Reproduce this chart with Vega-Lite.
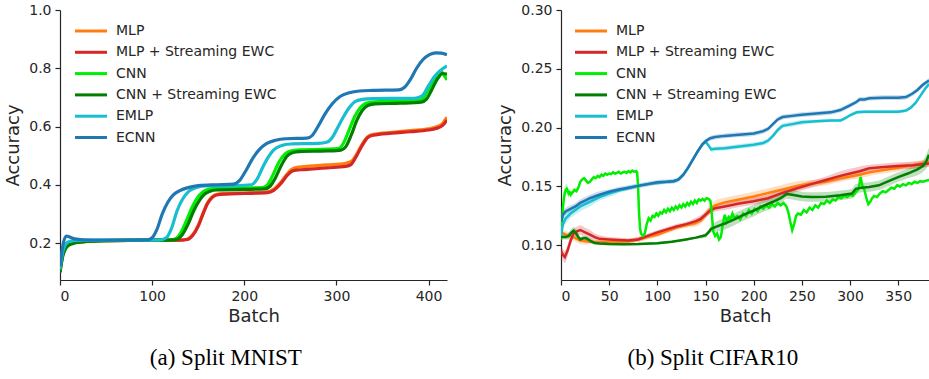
{
  "$schema": "https://vega.github.io/schema/vega-lite/v6.json",
  "padding": {"left": 4, "top": 3, "right": 0, "bottom": 0},
  "background": "white",
  "config": {
    "view": {"stroke": null},
    "axis": {
      "grid": false, "domainColor": "#262626", "tickColor": "#262626", "labelColor": "#262626", "titleColor": "#262626",
      "labelFont": "DejaVu Sans", "labelFontSize": 14, "titleFont": "DejaVu Sans", "titleFontSize": 18, "titleFontWeight": "normal",
      "tickSize": 5, "domainWidth": 1.2, "tickWidth": 1.2, "labelPadding": 4
    },
    "axisY": {"titlePadding": 6},
    "axisX": {"titlePadding": 4},
    "legend": {"padding": 0}
  },
  "datasets": {
    "mnist": [
      {"s":"MLP","x":0,"y":0.10},{"s":"MLP","x":3,"y":0.16},{"s":"MLP","x":6,"y":0.185},{"s":"MLP","x":10,"y":0.196},{"s":"MLP","x":15,"y":0.201},{"s":"MLP","x":25,"y":0.205},{"s":"MLP","x":50,"y":0.208},{"s":"MLP","x":100,"y":0.21},{"s":"MLP","x":130,"y":0.21},{"s":"MLP","x":138,"y":0.213},{"s":"MLP","x":144,"y":0.228},{"s":"MLP","x":150,"y":0.26},{"s":"MLP","x":155,"y":0.30},{"s":"MLP","x":160,"y":0.337},{"s":"MLP","x":165,"y":0.358},{"s":"MLP","x":170,"y":0.367},{"s":"MLP","x":180,"y":0.37},{"s":"MLP","x":200,"y":0.372},{"s":"MLP","x":225,"y":0.376},{"s":"MLP","x":232,"y":0.385},{"s":"MLP","x":240,"y":0.41},{"s":"MLP","x":246,"y":0.435},{"s":"MLP","x":251,"y":0.452},{"s":"MLP","x":256,"y":0.459},{"s":"MLP","x":265,"y":0.462},{"s":"MLP","x":290,"y":0.468},{"s":"MLP","x":310,"y":0.474},{"s":"MLP","x":316,"y":0.48},{"s":"MLP","x":322,"y":0.505},{"s":"MLP","x":328,"y":0.54},{"s":"MLP","x":334,"y":0.565},{"s":"MLP","x":340,"y":0.573},{"s":"MLP","x":360,"y":0.58},{"s":"MLP","x":380,"y":0.586},{"s":"MLP","x":400,"y":0.592},{"s":"MLP","x":408,"y":0.598},{"s":"MLP","x":415,"y":0.61},{"s":"MLP","x":420,"y":0.632},
      {"s":"MLP + Streaming EWC","x":0,"y":0.10},{"s":"MLP + Streaming EWC","x":3,"y":0.16},{"s":"MLP + Streaming EWC","x":6,"y":0.185},{"s":"MLP + Streaming EWC","x":10,"y":0.196},{"s":"MLP + Streaming EWC","x":15,"y":0.201},{"s":"MLP + Streaming EWC","x":25,"y":0.205},{"s":"MLP + Streaming EWC","x":50,"y":0.208},{"s":"MLP + Streaming EWC","x":100,"y":0.21},{"s":"MLP + Streaming EWC","x":130,"y":0.21},{"s":"MLP + Streaming EWC","x":138,"y":0.212},{"s":"MLP + Streaming EWC","x":144,"y":0.226},{"s":"MLP + Streaming EWC","x":150,"y":0.258},{"s":"MLP + Streaming EWC","x":155,"y":0.298},{"s":"MLP + Streaming EWC","x":160,"y":0.335},{"s":"MLP + Streaming EWC","x":165,"y":0.356},{"s":"MLP + Streaming EWC","x":170,"y":0.365},{"s":"MLP + Streaming EWC","x":180,"y":0.368},{"s":"MLP + Streaming EWC","x":200,"y":0.37},{"s":"MLP + Streaming EWC","x":225,"y":0.373},{"s":"MLP + Streaming EWC","x":232,"y":0.381},{"s":"MLP + Streaming EWC","x":240,"y":0.405},{"s":"MLP + Streaming EWC","x":246,"y":0.43},{"s":"MLP + Streaming EWC","x":251,"y":0.445},{"s":"MLP + Streaming EWC","x":256,"y":0.45},{"s":"MLP + Streaming EWC","x":265,"y":0.452},{"s":"MLP + Streaming EWC","x":290,"y":0.458},{"s":"MLP + Streaming EWC","x":310,"y":0.463},{"s":"MLP + Streaming EWC","x":316,"y":0.47},{"s":"MLP + Streaming EWC","x":322,"y":0.5},{"s":"MLP + Streaming EWC","x":328,"y":0.535},{"s":"MLP + Streaming EWC","x":334,"y":0.562},{"s":"MLP + Streaming EWC","x":340,"y":0.57},{"s":"MLP + Streaming EWC","x":360,"y":0.577},{"s":"MLP + Streaming EWC","x":380,"y":0.582},{"s":"MLP + Streaming EWC","x":400,"y":0.588},{"s":"MLP + Streaming EWC","x":408,"y":0.593},{"s":"MLP + Streaming EWC","x":415,"y":0.603},{"s":"MLP + Streaming EWC","x":420,"y":0.622},
      {"s":"CNN","x":0,"y":0.11},{"s":"CNN","x":3,"y":0.175},{"s":"CNN","x":6,"y":0.192},{"s":"CNN","x":10,"y":0.199},{"s":"CNN","x":15,"y":0.202},{"s":"CNN","x":25,"y":0.205},{"s":"CNN","x":50,"y":0.208},{"s":"CNN","x":100,"y":0.21},{"s":"CNN","x":118,"y":0.21},{"s":"CNN","x":125,"y":0.214},{"s":"CNN","x":131,"y":0.235},{"s":"CNN","x":137,"y":0.275},{"s":"CNN","x":143,"y":0.32},{"s":"CNN","x":149,"y":0.355},{"s":"CNN","x":155,"y":0.375},{"s":"CNN","x":162,"y":0.385},{"s":"CNN","x":170,"y":0.388},{"s":"CNN","x":200,"y":0.389},{"s":"CNN","x":220,"y":0.39},{"s":"CNN","x":226,"y":0.403},{"s":"CNN","x":232,"y":0.44},{"s":"CNN","x":238,"y":0.48},{"s":"CNN","x":244,"y":0.505},{"s":"CNN","x":250,"y":0.516},{"s":"CNN","x":260,"y":0.52},{"s":"CNN","x":290,"y":0.522},{"s":"CNN","x":303,"y":0.525},{"s":"CNN","x":308,"y":0.545},{"s":"CNN","x":314,"y":0.59},{"s":"CNN","x":320,"y":0.635},{"s":"CNN","x":326,"y":0.665},{"s":"CNN","x":332,"y":0.68},{"s":"CNN","x":342,"y":0.685},{"s":"CNN","x":370,"y":0.688},{"s":"CNN","x":390,"y":0.69},{"s":"CNN","x":396,"y":0.705},{"s":"CNN","x":402,"y":0.74},{"s":"CNN","x":408,"y":0.772},{"s":"CNN","x":413,"y":0.79},{"s":"CNN","x":417,"y":0.775},{"s":"CNN","x":420,"y":0.76},
      {"s":"CNN + Streaming EWC","x":0,"y":0.10},{"s":"CNN + Streaming EWC","x":3,"y":0.155},{"s":"CNN + Streaming EWC","x":6,"y":0.18},{"s":"CNN + Streaming EWC","x":10,"y":0.193},{"s":"CNN + Streaming EWC","x":15,"y":0.199},{"s":"CNN + Streaming EWC","x":25,"y":0.204},{"s":"CNN + Streaming EWC","x":50,"y":0.208},{"s":"CNN + Streaming EWC","x":100,"y":0.21},{"s":"CNN + Streaming EWC","x":120,"y":0.21},{"s":"CNN + Streaming EWC","x":127,"y":0.213},{"s":"CNN + Streaming EWC","x":133,"y":0.23},{"s":"CNN + Streaming EWC","x":139,"y":0.265},{"s":"CNN + Streaming EWC","x":145,"y":0.31},{"s":"CNN + Streaming EWC","x":151,"y":0.345},{"s":"CNN + Streaming EWC","x":157,"y":0.368},{"s":"CNN + Streaming EWC","x":163,"y":0.378},{"s":"CNN + Streaming EWC","x":170,"y":0.382},{"s":"CNN + Streaming EWC","x":200,"y":0.384},{"s":"CNN + Streaming EWC","x":222,"y":0.386},{"s":"CNN + Streaming EWC","x":228,"y":0.395},{"s":"CNN + Streaming EWC","x":234,"y":0.425},{"s":"CNN + Streaming EWC","x":240,"y":0.465},{"s":"CNN + Streaming EWC","x":246,"y":0.497},{"s":"CNN + Streaming EWC","x":252,"y":0.51},{"s":"CNN + Streaming EWC","x":260,"y":0.514},{"s":"CNN + Streaming EWC","x":290,"y":0.516},{"s":"CNN + Streaming EWC","x":305,"y":0.519},{"s":"CNN + Streaming EWC","x":310,"y":0.53},{"s":"CNN + Streaming EWC","x":316,"y":0.57},{"s":"CNN + Streaming EWC","x":322,"y":0.62},{"s":"CNN + Streaming EWC","x":328,"y":0.655},{"s":"CNN + Streaming EWC","x":334,"y":0.672},{"s":"CNN + Streaming EWC","x":342,"y":0.678},{"s":"CNN + Streaming EWC","x":370,"y":0.68},{"s":"CNN + Streaming EWC","x":392,"y":0.684},{"s":"CNN + Streaming EWC","x":398,"y":0.695},{"s":"CNN + Streaming EWC","x":404,"y":0.73},{"s":"CNN + Streaming EWC","x":410,"y":0.765},{"s":"CNN + Streaming EWC","x":415,"y":0.782},{"s":"CNN + Streaming EWC","x":420,"y":0.78},
      {"s":"EMLP","x":0,"y":0.11},{"s":"EMLP","x":3,"y":0.17},{"s":"EMLP","x":6,"y":0.195},{"s":"EMLP","x":10,"y":0.205},{"s":"EMLP","x":20,"y":0.209},{"s":"EMLP","x":50,"y":0.21},{"s":"EMLP","x":100,"y":0.21},{"s":"EMLP","x":110,"y":0.211},{"s":"EMLP","x":116,"y":0.22},{"s":"EMLP","x":121,"y":0.25},{"s":"EMLP","x":127,"y":0.31},{"s":"EMLP","x":133,"y":0.35},{"s":"EMLP","x":140,"y":0.378},{"s":"EMLP","x":148,"y":0.391},{"s":"EMLP","x":157,"y":0.396},{"s":"EMLP","x":190,"y":0.397},{"s":"EMLP","x":208,"y":0.40},{"s":"EMLP","x":214,"y":0.42},{"s":"EMLP","x":220,"y":0.46},{"s":"EMLP","x":226,"y":0.495},{"s":"EMLP","x":232,"y":0.52},{"s":"EMLP","x":240,"y":0.534},{"s":"EMLP","x":250,"y":0.54},{"s":"EMLP","x":280,"y":0.542},{"s":"EMLP","x":290,"y":0.547},{"s":"EMLP","x":296,"y":0.565},{"s":"EMLP","x":302,"y":0.60},{"s":"EMLP","x":308,"y":0.635},{"s":"EMLP","x":314,"y":0.665},{"s":"EMLP","x":320,"y":0.685},{"s":"EMLP","x":328,"y":0.693},{"s":"EMLP","x":340,"y":0.696},{"s":"EMLP","x":385,"y":0.697},{"s":"EMLP","x":393,"y":0.705},{"s":"EMLP","x":400,"y":0.74},{"s":"EMLP","x":406,"y":0.77},{"s":"EMLP","x":412,"y":0.79},{"s":"EMLP","x":420,"y":0.808},
      {"s":"ECNN","x":0,"y":0.12},{"s":"ECNN","x":2,"y":0.17},{"s":"ECNN","x":4,"y":0.205},{"s":"ECNN","x":7,"y":0.224},{"s":"ECNN","x":11,"y":0.22},{"s":"ECNN","x":16,"y":0.214},{"s":"ECNN","x":25,"y":0.211},{"s":"ECNN","x":50,"y":0.21},{"s":"ECNN","x":95,"y":0.211},{"s":"ECNN","x":100,"y":0.218},{"s":"ECNN","x":105,"y":0.245},{"s":"ECNN","x":111,"y":0.30},{"s":"ECNN","x":117,"y":0.34},{"s":"ECNN","x":123,"y":0.365},{"s":"ECNN","x":130,"y":0.38},{"s":"ECNN","x":140,"y":0.391},{"s":"ECNN","x":150,"y":0.397},{"s":"ECNN","x":170,"y":0.40},{"s":"ECNN","x":188,"y":0.402},{"s":"ECNN","x":195,"y":0.415},{"s":"ECNN","x":202,"y":0.45},{"s":"ECNN","x":209,"y":0.49},{"s":"ECNN","x":216,"y":0.52},{"s":"ECNN","x":224,"y":0.541},{"s":"ECNN","x":234,"y":0.553},{"s":"ECNN","x":245,"y":0.558},{"s":"ECNN","x":268,"y":0.56},{"s":"ECNN","x":274,"y":0.57},{"s":"ECNN","x":280,"y":0.60},{"s":"ECNN","x":288,"y":0.645},{"s":"ECNN","x":296,"y":0.68},{"s":"ECNN","x":304,"y":0.703},{"s":"ECNN","x":314,"y":0.716},{"s":"ECNN","x":325,"y":0.722},{"s":"ECNN","x":340,"y":0.724},{"s":"ECNN","x":368,"y":0.726},{"s":"ECNN","x":374,"y":0.735},{"s":"ECNN","x":380,"y":0.76},{"s":"ECNN","x":387,"y":0.80},{"s":"ECNN","x":394,"y":0.83},{"s":"ECNN","x":401,"y":0.847},{"s":"ECNN","x":408,"y":0.853},{"s":"ECNN","x":414,"y":0.852},{"s":"ECNN","x":420,"y":0.846}
    ],
    "cifar": [
      {"s":"MLP","x":0,"y":0.111,"e":0.003},{"s":"MLP","x":5,"y":0.109,"e":0.003},{"s":"MLP","x":10,"y":0.108,"e":0.003},{"s":"MLP","x":15,"y":0.106,"e":0.003},{"s":"MLP","x":20,"y":0.104,"e":0.003},{"s":"MLP","x":25,"y":0.1035,"e":0.003},{"s":"MLP","x":30,"y":0.103,"e":0.002},{"s":"MLP","x":40,"y":0.1025,"e":0.002},{"s":"MLP","x":50,"y":0.1025,"e":0.002},{"s":"MLP","x":60,"y":0.103,"e":0.002},{"s":"MLP","x":70,"y":0.1035,"e":0.002},{"s":"MLP","x":80,"y":0.105,"e":0.002},{"s":"MLP","x":90,"y":0.107,"e":0.002},{"s":"MLP","x":100,"y":0.109,"e":0.002},{"s":"MLP","x":110,"y":0.112,"e":0.002},{"s":"MLP","x":120,"y":0.115,"e":0.002},{"s":"MLP","x":130,"y":0.117,"e":0.002},{"s":"MLP","x":140,"y":0.119,"e":0.003},{"s":"MLP","x":145,"y":0.121,"e":0.003},{"s":"MLP","x":150,"y":0.126,"e":0.003},{"s":"MLP","x":155,"y":0.131,"e":0.004},{"s":"MLP","x":160,"y":0.134,"e":0.004},{"s":"MLP","x":170,"y":0.1365,"e":0.004},{"s":"MLP","x":185,"y":0.139,"e":0.004},{"s":"MLP","x":200,"y":0.1415,"e":0.004},{"s":"MLP","x":215,"y":0.1445,"e":0.004},{"s":"MLP","x":230,"y":0.1475,"e":0.004},{"s":"MLP","x":245,"y":0.1505,"e":0.004},{"s":"MLP","x":260,"y":0.1525,"e":0.003},{"s":"MLP","x":275,"y":0.154,"e":0.003},{"s":"MLP","x":290,"y":0.157,"e":0.003},{"s":"MLP","x":300,"y":0.1585,"e":0.003},{"s":"MLP","x":310,"y":0.16,"e":0.003},{"s":"MLP","x":320,"y":0.162,"e":0.003},{"s":"MLP","x":335,"y":0.164,"e":0.003},{"s":"MLP","x":350,"y":0.166,"e":0.003},{"s":"MLP","x":365,"y":0.168,"e":0.003},{"s":"MLP","x":382,"y":0.1705,"e":0.003},
      {"s":"MLP + Streaming EWC","x":0,"y":0.095,"e":0.004},{"s":"MLP + Streaming EWC","x":2,"y":0.092,"e":0.005},{"s":"MLP + Streaming EWC","x":4,"y":0.090,"e":0.005},{"s":"MLP + Streaming EWC","x":7,"y":0.096,"e":0.005},{"s":"MLP + Streaming EWC","x":10,"y":0.104,"e":0.004},{"s":"MLP + Streaming EWC","x":13,"y":0.11,"e":0.004},{"s":"MLP + Streaming EWC","x":17,"y":0.112,"e":0.004},{"s":"MLP + Streaming EWC","x":20,"y":0.113,"e":0.004},{"s":"MLP + Streaming EWC","x":25,"y":0.111,"e":0.004},{"s":"MLP + Streaming EWC","x":30,"y":0.109,"e":0.004},{"s":"MLP + Streaming EWC","x":35,"y":0.107,"e":0.003},{"s":"MLP + Streaming EWC","x":40,"y":0.1055,"e":0.003},{"s":"MLP + Streaming EWC","x":50,"y":0.105,"e":0.002},{"s":"MLP + Streaming EWC","x":60,"y":0.1045,"e":0.002},{"s":"MLP + Streaming EWC","x":70,"y":0.104,"e":0.002},{"s":"MLP + Streaming EWC","x":80,"y":0.105,"e":0.002},{"s":"MLP + Streaming EWC","x":90,"y":0.108,"e":0.002},{"s":"MLP + Streaming EWC","x":100,"y":0.111,"e":0.002},{"s":"MLP + Streaming EWC","x":110,"y":0.1135,"e":0.002},{"s":"MLP + Streaming EWC","x":120,"y":0.116,"e":0.002},{"s":"MLP + Streaming EWC","x":130,"y":0.118,"e":0.002},{"s":"MLP + Streaming EWC","x":140,"y":0.1205,"e":0.003},{"s":"MLP + Streaming EWC","x":145,"y":0.1225,"e":0.003},{"s":"MLP + Streaming EWC","x":150,"y":0.126,"e":0.003},{"s":"MLP + Streaming EWC","x":155,"y":0.1295,"e":0.003},{"s":"MLP + Streaming EWC","x":160,"y":0.1315,"e":0.003},{"s":"MLP + Streaming EWC","x":170,"y":0.133,"e":0.003},{"s":"MLP + Streaming EWC","x":185,"y":0.1355,"e":0.003},{"s":"MLP + Streaming EWC","x":200,"y":0.1375,"e":0.003},{"s":"MLP + Streaming EWC","x":215,"y":0.14,"e":0.003},{"s":"MLP + Streaming EWC","x":230,"y":0.1445,"e":0.003},{"s":"MLP + Streaming EWC","x":245,"y":0.1485,"e":0.003},{"s":"MLP + Streaming EWC","x":260,"y":0.152,"e":0.003},{"s":"MLP + Streaming EWC","x":275,"y":0.1555,"e":0.003},{"s":"MLP + Streaming EWC","x":290,"y":0.159,"e":0.004},{"s":"MLP + Streaming EWC","x":300,"y":0.161,"e":0.004},{"s":"MLP + Streaming EWC","x":310,"y":0.163,"e":0.004},{"s":"MLP + Streaming EWC","x":320,"y":0.1655,"e":0.003},{"s":"MLP + Streaming EWC","x":335,"y":0.1665,"e":0.003},{"s":"MLP + Streaming EWC","x":350,"y":0.1675,"e":0.003},{"s":"MLP + Streaming EWC","x":365,"y":0.168,"e":0.003},{"s":"MLP + Streaming EWC","x":382,"y":0.1695,"e":0.003},
      {"s":"CNN","x":0,"y":0.105,"e":0.002},{"s":"CNN","x":1,"y":0.118,"e":0.003},{"s":"CNN","x":2,"y":0.132,"e":0.004},{"s":"CNN","x":3,"y":0.14,"e":0.005},{"s":"CNN","x":4,"y":0.145,"e":0.005},{"s":"CNN","x":5,"y":0.147,"e":0.005},{"s":"CNN","x":6,"y":0.148,"e":0.004},{"s":"CNN","x":7,"y":0.146,"e":0.004},{"s":"CNN","x":8,"y":0.144,"e":0.004},{"s":"CNN","x":9,"y":0.145,"e":0.003},{"s":"CNN","x":10,"y":0.143,"e":0.003},{"s":"CNN","x":12,"y":0.145,"e":0.002},{"s":"CNN","x":14,"y":0.147,"e":0.002},{"s":"CNN","x":16,"y":0.146,"e":0.001},{"s":"CNN","x":18,"y":0.149,"e":0.001},{"s":"CNN","x":20,"y":0.154,"e":0.001},{"s":"CNN","x":22,"y":0.156,"e":0.001},{"s":"CNN","x":24,"y":0.157,"e":0.001},{"s":"CNN","x":26,"y":0.155,"e":0.001},{"s":"CNN","x":28,"y":0.153,"e":0.001},{"s":"CNN","x":30,"y":0.154,"e":0.001},{"s":"CNN","x":32,"y":0.156,"e":0.001},{"s":"CNN","x":34,"y":0.158,"e":0.001},{"s":"CNN","x":36,"y":0.157,"e":0.001},{"s":"CNN","x":38,"y":0.159,"e":0.001},{"s":"CNN","x":40,"y":0.158,"e":0.001},{"s":"CNN","x":42,"y":0.16,"e":0.001},{"s":"CNN","x":44,"y":0.159,"e":0.001},{"s":"CNN","x":46,"y":0.161,"e":0.001},{"s":"CNN","x":48,"y":0.16,"e":0.001},{"s":"CNN","x":50,"y":0.161,"e":0.001},{"s":"CNN","x":52,"y":0.1605,"e":0.001},{"s":"CNN","x":54,"y":0.162,"e":0.001},{"s":"CNN","x":56,"y":0.161,"e":0.001},{"s":"CNN","x":58,"y":0.1615,"e":0.001},{"s":"CNN","x":60,"y":0.1625,"e":0.001},{"s":"CNN","x":62,"y":0.161,"e":0.001},{"s":"CNN","x":64,"y":0.162,"e":0.001},{"s":"CNN","x":66,"y":0.1625,"e":0.001},{"s":"CNN","x":68,"y":0.1615,"e":0.001},{"s":"CNN","x":70,"y":0.163,"e":0.001},{"s":"CNN","x":72,"y":0.162,"e":0.001},{"s":"CNN","x":74,"y":0.1635,"e":0.001},{"s":"CNN","x":76,"y":0.1625,"e":0.001},{"s":"CNN","x":78,"y":0.163,"e":0.001},{"s":"CNN","x":79,"y":0.162,"e":0.001},{"s":"CNN","x":80,"y":0.15,"e":0.001},{"s":"CNN","x":81,"y":0.128,"e":0.001},{"s":"CNN","x":82,"y":0.115,"e":0.001},{"s":"CNN","x":83,"y":0.11,"e":0.001},{"s":"CNN","x":85,"y":0.108,"e":0.001},{"s":"CNN","x":87,"y":0.11,"e":0.001},{"s":"CNN","x":89,"y":0.118,"e":0.001},{"s":"CNN","x":91,"y":0.123,"e":0.001},{"s":"CNN","x":93,"y":0.121,"e":0.001},{"s":"CNN","x":95,"y":0.125,"e":0.001},{"s":"CNN","x":97,"y":0.124,"e":0.001},{"s":"CNN","x":99,"y":0.127,"e":0.001},{"s":"CNN","x":101,"y":0.125,"e":0.001},{"s":"CNN","x":103,"y":0.128,"e":0.001},{"s":"CNN","x":105,"y":0.127,"e":0.001},{"s":"CNN","x":107,"y":0.13,"e":0.001},{"s":"CNN","x":109,"y":0.128,"e":0.001},{"s":"CNN","x":111,"y":0.131,"e":0.001},{"s":"CNN","x":113,"y":0.129,"e":0.001},{"s":"CNN","x":115,"y":0.132,"e":0.001},{"s":"CNN","x":117,"y":0.13,"e":0.001},{"s":"CNN","x":119,"y":0.133,"e":0.001},{"s":"CNN","x":121,"y":0.131,"e":0.001},{"s":"CNN","x":123,"y":0.134,"e":0.001},{"s":"CNN","x":125,"y":0.132,"e":0.001},{"s":"CNN","x":127,"y":0.135,"e":0.001},{"s":"CNN","x":129,"y":0.133,"e":0.001},{"s":"CNN","x":131,"y":0.136,"e":0.001},{"s":"CNN","x":133,"y":0.134,"e":0.001},{"s":"CNN","x":135,"y":0.137,"e":0.001},{"s":"CNN","x":137,"y":0.135,"e":0.001},{"s":"CNN","x":139,"y":0.138,"e":0.001},{"s":"CNN","x":141,"y":0.136,"e":0.001},{"s":"CNN","x":143,"y":0.139,"e":0.001},{"s":"CNN","x":145,"y":0.138,"e":0.001},{"s":"CNN","x":147,"y":0.1395,"e":0.001},{"s":"CNN","x":149,"y":0.138,"e":0.001},{"s":"CNN","x":151,"y":0.14,"e":0.001},{"s":"CNN","x":153,"y":0.1395,"e":0.001},{"s":"CNN","x":155,"y":0.138,"e":0.001},{"s":"CNN","x":156,"y":0.132,"e":0.001},{"s":"CNN","x":157,"y":0.122,"e":0.001},{"s":"CNN","x":158,"y":0.112,"e":0.001},{"s":"CNN","x":160,"y":0.108,"e":0.002},{"s":"CNN","x":162,"y":0.11,"e":0.002},{"s":"CNN","x":164,"y":0.105,"e":0.002},{"s":"CNN","x":166,"y":0.107,"e":0.002},{"s":"CNN","x":168,"y":0.118,"e":0.002},{"s":"CNN","x":170,"y":0.126,"e":0.001},{"s":"CNN","x":172,"y":0.12,"e":0.001},{"s":"CNN","x":174,"y":0.124,"e":0.001},{"s":"CNN","x":176,"y":0.122,"e":0.001},{"s":"CNN","x":178,"y":0.127,"e":0.001},{"s":"CNN","x":180,"y":0.123,"e":0.001},{"s":"CNN","x":183,"y":0.125,"e":0.001},{"s":"CNN","x":186,"y":0.122,"e":0.001},{"s":"CNN","x":189,"y":0.127,"e":0.001},{"s":"CNN","x":192,"y":0.125,"e":0.001},{"s":"CNN","x":195,"y":0.13,"e":0.001},{"s":"CNN","x":198,"y":0.127,"e":0.001},{"s":"CNN","x":201,"y":0.131,"e":0.001},{"s":"CNN","x":204,"y":0.129,"e":0.001},{"s":"CNN","x":207,"y":0.133,"e":0.001},{"s":"CNN","x":210,"y":0.131,"e":0.001},{"s":"CNN","x":213,"y":0.134,"e":0.001},{"s":"CNN","x":216,"y":0.132,"e":0.001},{"s":"CNN","x":219,"y":0.135,"e":0.001},{"s":"CNN","x":222,"y":0.133,"e":0.001},{"s":"CNN","x":225,"y":0.136,"e":0.001},{"s":"CNN","x":228,"y":0.134,"e":0.001},{"s":"CNN","x":231,"y":0.136,"e":0.001},{"s":"CNN","x":234,"y":0.133,"e":0.001},{"s":"CNN","x":236,"y":0.128,"e":0.001},{"s":"CNN","x":238,"y":0.12,"e":0.001},{"s":"CNN","x":240,"y":0.113,"e":0.001},{"s":"CNN","x":242,"y":0.118,"e":0.001},{"s":"CNN","x":244,"y":0.125,"e":0.001},{"s":"CNN","x":246,"y":0.127,"e":0.001},{"s":"CNN","x":249,"y":0.126,"e":0.001},{"s":"CNN","x":252,"y":0.13,"e":0.001},{"s":"CNN","x":255,"y":0.128,"e":0.001},{"s":"CNN","x":258,"y":0.132,"e":0.001},{"s":"CNN","x":261,"y":0.13,"e":0.001},{"s":"CNN","x":264,"y":0.134,"e":0.001},{"s":"CNN","x":267,"y":0.132,"e":0.001},{"s":"CNN","x":270,"y":0.136,"e":0.001},{"s":"CNN","x":273,"y":0.135,"e":0.001},{"s":"CNN","x":276,"y":0.138,"e":0.001},{"s":"CNN","x":279,"y":0.136,"e":0.001},{"s":"CNN","x":282,"y":0.139,"e":0.001},{"s":"CNN","x":285,"y":0.138,"e":0.001},{"s":"CNN","x":288,"y":0.141,"e":0.001},{"s":"CNN","x":291,"y":0.14,"e":0.001},{"s":"CNN","x":294,"y":0.142,"e":0.001},{"s":"CNN","x":297,"y":0.141,"e":0.001},{"s":"CNN","x":300,"y":0.143,"e":0.001},{"s":"CNN","x":303,"y":0.142,"e":0.001},{"s":"CNN","x":306,"y":0.145,"e":0.001},{"s":"CNN","x":309,"y":0.148,"e":0.001},{"s":"CNN","x":311,"y":0.158,"e":0.001},{"s":"CNN","x":313,"y":0.15,"e":0.001},{"s":"CNN","x":315,"y":0.147,"e":0.001},{"s":"CNN","x":317,"y":0.14,"e":0.001},{"s":"CNN","x":319,"y":0.135,"e":0.001},{"s":"CNN","x":321,"y":0.137,"e":0.001},{"s":"CNN","x":323,"y":0.14,"e":0.001},{"s":"CNN","x":325,"y":0.142,"e":0.001},{"s":"CNN","x":328,"y":0.141,"e":0.001},{"s":"CNN","x":331,"y":0.144,"e":0.001},{"s":"CNN","x":334,"y":0.146,"e":0.001},{"s":"CNN","x":337,"y":0.145,"e":0.001},{"s":"CNN","x":340,"y":0.147,"e":0.001},{"s":"CNN","x":343,"y":0.149,"e":0.001},{"s":"CNN","x":346,"y":0.148,"e":0.001},{"s":"CNN","x":349,"y":0.151,"e":0.001},{"s":"CNN","x":352,"y":0.15,"e":0.001},{"s":"CNN","x":355,"y":0.152,"e":0.001},{"s":"CNN","x":358,"y":0.151,"e":0.001},{"s":"CNN","x":361,"y":0.153,"e":0.001},{"s":"CNN","x":364,"y":0.152,"e":0.001},{"s":"CNN","x":367,"y":0.154,"e":0.001},{"s":"CNN","x":370,"y":0.153,"e":0.001},{"s":"CNN","x":373,"y":0.1545,"e":0.001},{"s":"CNN","x":376,"y":0.154,"e":0.001},{"s":"CNN","x":379,"y":0.155,"e":0.001},{"s":"CNN","x":382,"y":0.1555,"e":0.001},
      {"s":"CNN + Streaming EWC","x":0,"y":0.107,"e":0.002},{"s":"CNN + Streaming EWC","x":5,"y":0.107,"e":0.002},{"s":"CNN + Streaming EWC","x":8,"y":0.108,"e":0.003},{"s":"CNN + Streaming EWC","x":11,"y":0.111,"e":0.003},{"s":"CNN + Streaming EWC","x":13,"y":0.1125,"e":0.003},{"s":"CNN + Streaming EWC","x":15,"y":0.111,"e":0.003},{"s":"CNN + Streaming EWC","x":18,"y":0.107,"e":0.003},{"s":"CNN + Streaming EWC","x":20,"y":0.105,"e":0.002},{"s":"CNN + Streaming EWC","x":23,"y":0.106,"e":0.002},{"s":"CNN + Streaming EWC","x":26,"y":0.106,"e":0.002},{"s":"CNN + Streaming EWC","x":30,"y":0.104,"e":0.002},{"s":"CNN + Streaming EWC","x":35,"y":0.102,"e":0.001},{"s":"CNN + Streaming EWC","x":40,"y":0.1015,"e":0.001},{"s":"CNN + Streaming EWC","x":50,"y":0.101,"e":0.001},{"s":"CNN + Streaming EWC","x":65,"y":0.1008,"e":0.001},{"s":"CNN + Streaming EWC","x":80,"y":0.101,"e":0.001},{"s":"CNN + Streaming EWC","x":100,"y":0.1017,"e":0.001},{"s":"CNN + Streaming EWC","x":115,"y":0.103,"e":0.001},{"s":"CNN + Streaming EWC","x":130,"y":0.105,"e":0.001},{"s":"CNN + Streaming EWC","x":140,"y":0.1065,"e":0.001},{"s":"CNN + Streaming EWC","x":150,"y":0.1085,"e":0.002},{"s":"CNN + Streaming EWC","x":153,"y":0.111,"e":0.002},{"s":"CNN + Streaming EWC","x":156,"y":0.114,"e":0.003},{"s":"CNN + Streaming EWC","x":160,"y":0.1155,"e":0.004},{"s":"CNN + Streaming EWC","x":170,"y":0.1185,"e":0.005},{"s":"CNN + Streaming EWC","x":180,"y":0.122,"e":0.005},{"s":"CNN + Streaming EWC","x":190,"y":0.126,"e":0.005},{"s":"CNN + Streaming EWC","x":200,"y":0.1295,"e":0.005},{"s":"CNN + Streaming EWC","x":210,"y":0.1335,"e":0.005},{"s":"CNN + Streaming EWC","x":220,"y":0.137,"e":0.005},{"s":"CNN + Streaming EWC","x":228,"y":0.14,"e":0.005},{"s":"CNN + Streaming EWC","x":234,"y":0.1435,"e":0.004},{"s":"CNN + Streaming EWC","x":240,"y":0.143,"e":0.004},{"s":"CNN + Streaming EWC","x":250,"y":0.1415,"e":0.004},{"s":"CNN + Streaming EWC","x":260,"y":0.141,"e":0.004},{"s":"CNN + Streaming EWC","x":275,"y":0.1412,"e":0.004},{"s":"CNN + Streaming EWC","x":290,"y":0.1425,"e":0.004},{"s":"CNN + Streaming EWC","x":302,"y":0.144,"e":0.004},{"s":"CNN + Streaming EWC","x":306,"y":0.148,"e":0.004},{"s":"CNN + Streaming EWC","x":312,"y":0.149,"e":0.004},{"s":"CNN + Streaming EWC","x":320,"y":0.1495,"e":0.004},{"s":"CNN + Streaming EWC","x":330,"y":0.151,"e":0.004},{"s":"CNN + Streaming EWC","x":340,"y":0.1545,"e":0.004},{"s":"CNN + Streaming EWC","x":350,"y":0.158,"e":0.004},{"s":"CNN + Streaming EWC","x":360,"y":0.161,"e":0.004},{"s":"CNN + Streaming EWC","x":370,"y":0.1645,"e":0.005},{"s":"CNN + Streaming EWC","x":376,"y":0.1675,"e":0.005},{"s":"CNN + Streaming EWC","x":379,"y":0.171,"e":0.006},{"s":"CNN + Streaming EWC","x":382,"y":0.177,"e":0.006},
      {"s":"EMLP","x":0,"y":0.108,"e":0.005},{"s":"EMLP","x":2,"y":0.118,"e":0.005},{"s":"EMLP","x":5,"y":0.123,"e":0.005},{"s":"EMLP","x":10,"y":0.127,"e":0.004},{"s":"EMLP","x":15,"y":0.13,"e":0.004},{"s":"EMLP","x":20,"y":0.133,"e":0.004},{"s":"EMLP","x":25,"y":0.135,"e":0.004},{"s":"EMLP","x":30,"y":0.137,"e":0.004},{"s":"EMLP","x":40,"y":0.141,"e":0.003},{"s":"EMLP","x":50,"y":0.144,"e":0.003},{"s":"EMLP","x":60,"y":0.1465,"e":0.002},{"s":"EMLP","x":70,"y":0.1485,"e":0.002},{"s":"EMLP","x":80,"y":0.1505,"e":0.0015},{"s":"EMLP","x":90,"y":0.152,"e":0.0015},{"s":"EMLP","x":100,"y":0.153,"e":0.0015},{"s":"EMLP","x":110,"y":0.154,"e":0.0015},{"s":"EMLP","x":117,"y":0.1545,"e":0.0015},{"s":"EMLP","x":122,"y":0.156,"e":0.0015},{"s":"EMLP","x":127,"y":0.16,"e":0.0015},{"s":"EMLP","x":132,"y":0.166,"e":0.0015},{"s":"EMLP","x":137,"y":0.173,"e":0.0015},{"s":"EMLP","x":142,"y":0.18,"e":0.0015},{"s":"EMLP","x":147,"y":0.186,"e":0.0015},{"s":"EMLP","x":150,"y":0.188,"e":0.0015},{"s":"EMLP","x":153,"y":0.185,"e":0.002},{"s":"EMLP","x":156,"y":0.1815,"e":0.002},{"s":"EMLP","x":160,"y":0.182,"e":0.002},{"s":"EMLP","x":170,"y":0.1825,"e":0.002},{"s":"EMLP","x":185,"y":0.184,"e":0.002},{"s":"EMLP","x":200,"y":0.1855,"e":0.002},{"s":"EMLP","x":210,"y":0.187,"e":0.002},{"s":"EMLP","x":215,"y":0.189,"e":0.002},{"s":"EMLP","x":220,"y":0.193,"e":0.002},{"s":"EMLP","x":225,"y":0.198,"e":0.002},{"s":"EMLP","x":230,"y":0.2015,"e":0.002},{"s":"EMLP","x":240,"y":0.203,"e":0.002},{"s":"EMLP","x":250,"y":0.2045,"e":0.002},{"s":"EMLP","x":265,"y":0.2055,"e":0.0015},{"s":"EMLP","x":280,"y":0.206,"e":0.0015},{"s":"EMLP","x":290,"y":0.206,"e":0.0015},{"s":"EMLP","x":295,"y":0.208,"e":0.0015},{"s":"EMLP","x":300,"y":0.2105,"e":0.0015},{"s":"EMLP","x":307,"y":0.213,"e":0.0015},{"s":"EMLP","x":315,"y":0.2135,"e":0.0015},{"s":"EMLP","x":330,"y":0.2135,"e":0.0015},{"s":"EMLP","x":350,"y":0.2135,"e":0.0015},{"s":"EMLP","x":358,"y":0.2145,"e":0.0015},{"s":"EMLP","x":363,"y":0.217,"e":0.0015},{"s":"EMLP","x":368,"y":0.221,"e":0.0015},{"s":"EMLP","x":373,"y":0.227,"e":0.0015},{"s":"EMLP","x":378,"y":0.233,"e":0.0015},{"s":"EMLP","x":382,"y":0.237,"e":0.0015},
      {"s":"ECNN","x":0,"y":0.12,"e":0.003},{"s":"ECNN","x":2,"y":0.126,"e":0.003},{"s":"ECNN","x":5,"y":0.129,"e":0.003},{"s":"ECNN","x":10,"y":0.131,"e":0.003},{"s":"ECNN","x":15,"y":0.133,"e":0.003},{"s":"ECNN","x":20,"y":0.136,"e":0.003},{"s":"ECNN","x":25,"y":0.138,"e":0.003},{"s":"ECNN","x":30,"y":0.14,"e":0.003},{"s":"ECNN","x":40,"y":0.143,"e":0.003},{"s":"ECNN","x":50,"y":0.1455,"e":0.002},{"s":"ECNN","x":60,"y":0.1475,"e":0.002},{"s":"ECNN","x":70,"y":0.149,"e":0.002},{"s":"ECNN","x":80,"y":0.1505,"e":0.002},{"s":"ECNN","x":90,"y":0.152,"e":0.002},{"s":"ECNN","x":100,"y":0.1535,"e":0.002},{"s":"ECNN","x":110,"y":0.154,"e":0.002},{"s":"ECNN","x":117,"y":0.1545,"e":0.002},{"s":"ECNN","x":122,"y":0.156,"e":0.002},{"s":"ECNN","x":127,"y":0.16,"e":0.002},{"s":"ECNN","x":132,"y":0.166,"e":0.002},{"s":"ECNN","x":137,"y":0.173,"e":0.002},{"s":"ECNN","x":142,"y":0.18,"e":0.002},{"s":"ECNN","x":147,"y":0.186,"e":0.002},{"s":"ECNN","x":151,"y":0.189,"e":0.002},{"s":"ECNN","x":155,"y":0.191,"e":0.002},{"s":"ECNN","x":160,"y":0.192,"e":0.002},{"s":"ECNN","x":170,"y":0.193,"e":0.002},{"s":"ECNN","x":185,"y":0.194,"e":0.002},{"s":"ECNN","x":200,"y":0.195,"e":0.002},{"s":"ECNN","x":210,"y":0.197,"e":0.002},{"s":"ECNN","x":215,"y":0.199,"e":0.002},{"s":"ECNN","x":220,"y":0.203,"e":0.002},{"s":"ECNN","x":225,"y":0.207,"e":0.002},{"s":"ECNN","x":230,"y":0.209,"e":0.002},{"s":"ECNN","x":240,"y":0.21,"e":0.002},{"s":"ECNN","x":250,"y":0.211,"e":0.002},{"s":"ECNN","x":265,"y":0.212,"e":0.002},{"s":"ECNN","x":280,"y":0.213,"e":0.002},{"s":"ECNN","x":290,"y":0.215,"e":0.002},{"s":"ECNN","x":300,"y":0.219,"e":0.002},{"s":"ECNN","x":307,"y":0.222,"e":0.002},{"s":"ECNN","x":310,"y":0.224,"e":0.002},{"s":"ECNN","x":315,"y":0.224,"e":0.002},{"s":"ECNN","x":320,"y":0.225,"e":0.002},{"s":"ECNN","x":335,"y":0.2255,"e":0.002},{"s":"ECNN","x":350,"y":0.2255,"e":0.002},{"s":"ECNN","x":358,"y":0.226,"e":0.002},{"s":"ECNN","x":365,"y":0.229,"e":0.002},{"s":"ECNN","x":370,"y":0.232,"e":0.002},{"s":"ECNN","x":375,"y":0.236,"e":0.002},{"s":"ECNN","x":380,"y":0.239,"e":0.002},{"s":"ECNN","x":382,"y":0.24,"e":0.002}
    ]
  },
  "spacing": 49,
  "resolve": {"legend": {"color": "independent"}},
  "hconcat": [
    {
      "width": 387, "height": 270,
      "title": {"text": "(a) Split MNIST", "orient": "bottom", "anchor": "middle", "frame": "bounds", "font": "Liberation Serif", "fontSize": 23, "fontWeight": "normal", "color": "black", "offset": 22},
      "data": {"name": "mnist"},
      "mark": {"type": "line", "strokeWidth": 3.2, "interpolate": "monotone", "clip": true},
      "encoding": {
        "x": {"field": "x", "type": "quantitative", "title": "Batch", "scale": {"domain": [0, 420], "nice": false}, "axis": {"values": [0, 100, 200, 300, 400], "format": "d"}},
        "y": {"field": "y", "type": "quantitative", "title": "Accuracy", "scale": {"domain": [0.073, 1.0], "nice": false, "zero": false}, "axis": {"values": [0.2, 0.4, 0.6, 0.8, 1.0], "format": ".1f"}},
        "color": {
          "field": "s", "type": "nominal",
          "scale": {"domain": ["MLP", "MLP + Streaming EWC", "CNN", "CNN + Streaming EWC", "EMLP", "ECNN"], "range": ["#ff7f0e", "#d62728", "#00ee00", "#007f00", "#17becf", "#1f77b4"]},
          "legend": {"orient": "none", "legendX": 24, "legendY": 14, "title": null, "symbolType": "M-4,0H4", "symbolSize": 64, "symbolStrokeWidth": 3, "labelFont": "DejaVu Sans", "labelFontSize": 14, "labelColor": "#262626", "labelOffset": 18, "labelLimit": 400, "rowPadding": 7.3}
        },
        "order": {"field": "x", "type": "quantitative"}
      }
    },
    {
      "width": 368, "height": 270,
      "title": {"text": "(b) Split CIFAR10", "orient": "bottom", "anchor": "middle", "frame": "bounds", "font": "Liberation Serif", "fontSize": 23, "fontWeight": "normal", "color": "black", "offset": 22},
      "data": {"name": "cifar"},
      "encoding": {
        "x": {"field": "x", "type": "quantitative", "title": "Batch", "scale": {"domain": [0, 382], "nice": false}, "axis": {"values": [0, 50, 100, 150, 200, 250, 300, 350], "format": "d"}},
        "color": {
          "field": "s", "type": "nominal",
          "scale": {"domain": ["MLP", "MLP + Streaming EWC", "CNN", "CNN + Streaming EWC", "EMLP", "ECNN"], "range": ["#ff7f0e", "#d62728", "#00ee00", "#007f00", "#17becf", "#1f77b4"]},
          "legend": {"orient": "none", "legendX": 23, "legendY": 14, "title": null, "symbolType": "M-4,0H4", "symbolSize": 64, "symbolStrokeWidth": 3, "symbolOpacity": 1, "labelFont": "DejaVu Sans", "labelFontSize": 14, "labelColor": "#262626", "labelOffset": 18, "labelLimit": 400, "rowPadding": 7.3}
        }
      },
      "layer": [
        {
          "mark": {"type": "errorband", "interpolate": "monotone", "opacity": 0.25, "clip": true},
          "encoding": {
            "y": {"field": "y", "type": "quantitative", "title": "Accuracy", "scale": {"domain": [0.0705, 0.30], "nice": false, "zero": false}, "axis": {"values": [0.10, 0.15, 0.20, 0.25, 0.30], "format": ".2f"}},
            "yError": {"field": "e"}
          }
        },
        {
          "mark": {"type": "line", "strokeWidth": 2.5, "interpolate": "linear", "clip": true},
          "encoding": {
            "y": {"field": "y", "type": "quantitative"},
            "order": {"field": "x", "type": "quantitative"}
          }
        }
      ]
    }
  ]
}
